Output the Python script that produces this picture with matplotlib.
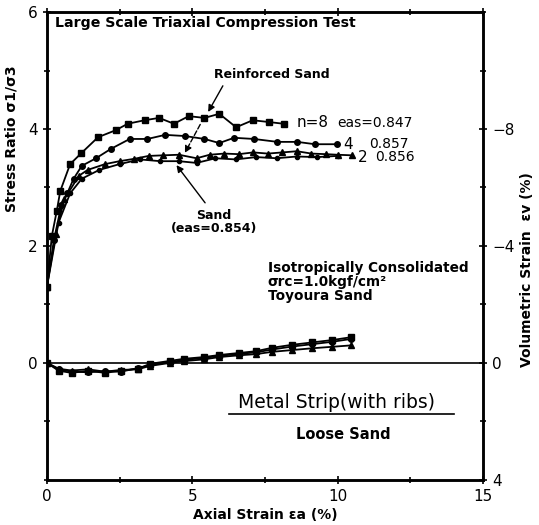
import matplotlib.pyplot as plt
from matplotlib.ticker import MultipleLocator

# stress ratio sigma1/sigma3 vs axial strain (%)
n8_x = [0.0, 0.17, 0.34, 0.46, 0.80, 1.19, 1.76, 2.37, 2.78, 3.36, 3.86, 4.37, 4.88, 5.42, 5.93, 6.51, 7.08, 7.63, 8.14]
n8_y = [1.30, 2.17, 2.60, 2.94, 3.40, 3.59, 3.86, 3.98, 4.09, 4.15, 4.19, 4.09, 4.22, 4.19, 4.26, 4.03, 4.15, 4.12, 4.09]

n4_x = [0.0, 0.24, 0.50, 0.70, 0.92, 1.20, 1.69, 2.20, 2.85, 3.46, 4.07, 4.75, 5.42, 5.93, 6.44, 7.12, 7.93, 8.61, 9.22, 9.97]
n4_y = [1.30, 2.10, 2.70, 2.90, 3.15, 3.37, 3.50, 3.66, 3.83, 3.83, 3.90, 3.88, 3.83, 3.76, 3.85, 3.83, 3.78, 3.78, 3.74, 3.74]

n2_x = [0.0, 0.30, 0.60, 1.10, 1.40, 2.00, 2.50, 3.00, 3.50, 4.00, 4.54, 5.15, 5.60, 6.10, 6.60, 7.10, 7.60, 8.10, 8.60, 9.10, 9.60, 10.00, 10.50]
n2_y = [1.30, 2.20, 2.80, 3.20, 3.30, 3.40, 3.45, 3.49, 3.54, 3.55, 3.56, 3.50, 3.56, 3.58, 3.57, 3.60, 3.58, 3.60, 3.62, 3.58, 3.57, 3.56, 3.55]

sand_x = [0.0, 0.40, 0.80, 1.20, 1.80, 2.50, 3.20, 3.90, 4.54, 5.15, 5.80, 6.50, 7.20, 7.90, 8.60, 9.30, 10.00]
sand_y = [1.30, 2.40, 2.90, 3.15, 3.30, 3.40, 3.48, 3.45, 3.45, 3.42, 3.50, 3.48, 3.52, 3.50, 3.53, 3.52, 3.54]

# volumetric strain (%) vs axial strain (%)
vol_x = [0.0, 0.41, 0.85, 1.42, 2.00, 2.54, 3.12, 3.56, 4.24, 4.71, 5.40, 5.93, 6.61, 7.19, 7.76, 8.44, 9.12, 9.80, 10.47]
vol8 = [0.0, 0.27, 0.34, 0.27, 0.34, 0.27, 0.20, 0.03, -0.07, -0.14, -0.20, -0.27, -0.34, -0.40, -0.52, -0.62, -0.70, -0.78, -0.88]
vol4 = [0.0, 0.22, 0.30, 0.32, 0.28, 0.30, 0.18, 0.08, -0.03, -0.10, -0.17, -0.24, -0.31, -0.36, -0.46, -0.56, -0.64, -0.72, -0.82]
vol2 = [0.0, 0.20, 0.26, 0.22, 0.30, 0.24, 0.22, 0.10, 0.00, -0.06, -0.12, -0.20, -0.26, -0.30, -0.38, -0.44, -0.50, -0.55, -0.60]

fs = 9
plt.rcParams['font.family'] = ['DejaVu Sans']

fig = plt.figure(figsize=(5.39, 5.25), dpi=100)
ax = fig.add_axes([0.087, 0.086, 0.809, 0.891])
ax2 = ax.twinx()

lw = 1.3
ax.plot(n8_x, n8_y, color='k', lw=lw, marker='s', ms=4)
ax.plot(n4_x, n4_y, color='k', lw=lw, marker='o', ms=4)
ax.plot(n2_x, n2_y, color='k', lw=lw, marker='^', ms=4)
ax.plot(sand_x, sand_y, color='k', lw=lw, marker='o', ms=3)

ax2.plot(vol_x, vol8, color='k', lw=lw, marker='s', ms=4)
ax2.plot(vol_x, vol4, color='k', lw=lw, marker='o', ms=4)
ax2.plot(vol_x, vol2, color='k', lw=lw, marker='^', ms=4)

ax.set_xlim(0, 15)
ax.set_ylim(-2, 6)
ax2.set_ylim(4, -12)

ax.set_xticks([0, 5, 10, 15])
ax.xaxis.set_minor_locator(MultipleLocator(2.5))
ax.set_yticks([0, 2, 4, 6])
ax.yaxis.set_minor_locator(MultipleLocator(1))
ax2.set_yticks([-8, -4, 0, 4])
ax2.yaxis.set_minor_locator(MultipleLocator(2))
ax.axhline(0, color='k', lw=1.2)

for a in (ax, ax2):
    a.tick_params(which='both', direction='inout', labelsize=fs + 2, width=1.2)
    a.tick_params(which='major', length=6)
    a.tick_params(which='minor', length=4)
    for s in a.spines.values():
        s.set_linewidth(1.8)
ax.tick_params(top=True, which='both')

ax.set_xlabel('Axial Strain εa (%)', fontsize=fs + 1, fontweight='bold', labelpad=3)
ax.set_ylabel('Stress Ratio σ1/σ3', fontsize=fs + 1, fontweight='bold')
ax.yaxis.set_label_coords(-0.065, 0.73)
ax2.set_ylabel('Volumetric Strain  εv (%)', fontsize=fs + 1, fontweight='bold')
ax2.yaxis.set_label_coords(1.085, 0.45)

ax.text(0.27, 5.75, 'Large Scale Triaxial Compression Test', fontsize=fs + 1.2, fontweight='bold')
ax.text(7.75, 4.88, 'Reinforced Sand', fontsize=fs, fontweight='bold', ha='center')
ax.annotate('', xy=(5.5, 4.25), xytext=(6.1, 4.78),
            arrowprops=dict(arrowstyle='-|>', color='k', lw=1))
ax.annotate('', xy=(4.7, 3.55), xytext=(5.32, 4.12),
            arrowprops=dict(arrowstyle='-|>', color='k', lw=1, ls='--'))

ax.text(8.6, 4.11, 'n=8', fontsize=fs + 2, va='center')
ax.text(10.0, 4.11, 'eas=0.847', fontsize=fs + 1, va='center')
ax.text(10.2, 3.74, '4', fontsize=fs + 2, va='center')
ax.text(11.1, 3.74, '0.857', fontsize=fs + 1, va='center')
ax.text(10.7, 3.52, '2', fontsize=fs + 2, va='center')
ax.text(11.3, 3.52, '0.856', fontsize=fs + 1, va='center')

ax.text(5.75, 2.41, 'Sand\n(eas=0.854)', fontsize=fs, fontweight='bold',
        ha='center', va='center', linespacing=1.0)
ax.annotate('', xy=(4.4, 3.42), xytext=(5.5, 2.7),
            arrowprops=dict(arrowstyle='-|>', color='k', lw=1))

ax.text(7.6, 1.38, 'Isotropically Consolidated\nσrc=1.0kgf/cm²\nToyoura Sand',
        fontsize=fs + 0.8, fontweight='bold', va='center', linespacing=1.0)

ax.text(9.97, -0.68, 'Metal Strip(with ribs)', fontsize=fs + 4.5, ha='center', va='center')
ax.plot([6.25, 14.0], [-0.87, -0.87], color='k', lw=1.2)
ax.text(10.2, -1.22, 'Loose Sand', fontsize=fs + 1.5, fontweight='bold', ha='center', va='center')

fig.savefig('out.png', dpi=100)
